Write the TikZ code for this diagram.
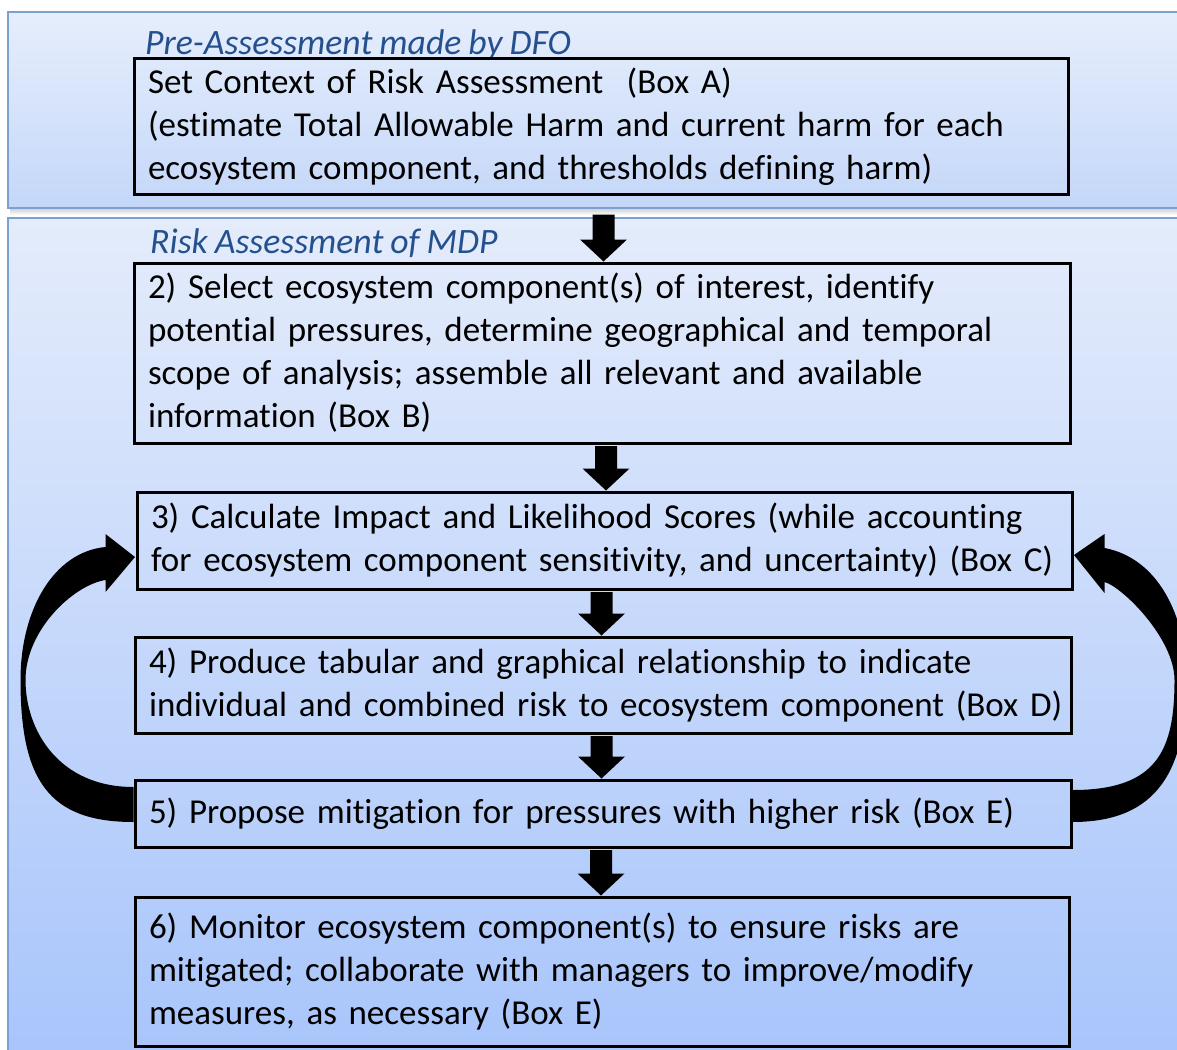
\documentclass[tikz,border=0pt]{standalone}
\usepackage{fontspec}
\setmainfont{Carlito}[RawFeature={-liga}]
\usetikzlibrary{calc}
\definecolor{titleblue}{HTML}{24508E}
\definecolor{panelline}{HTML}{7BA0D4}
\definecolor{ptopA}{HTML}{E6EEFC}
\definecolor{pbotA}{HTML}{C4D7F9}
\definecolor{ptopB}{HTML}{E4ECFB}
\definecolor{pbotB}{HTML}{A7C4FB}
\newcommand{\downblock}[2]{%
  \fill[black] ($(#1)+(-11,0)$) -- ($(#1)+(11,0)$) -- ($(#2)+(11,-22)$) -- ($(#2)+(23.5,-22)$)
    -- (#2) -- ($(#2)+(-23.5,-22)$) -- ($(#2)+(-11,-22)$) -- cycle;}
\newcommand{\boxfont}{\fontsize{35}{43}\selectfont\spaceskip 7pt plus 1pt minus 1pt\relax}
\newcommand{\ttlfont}{\itshape\fontsize{35.7}{43}\selectfont\spaceskip 7pt plus 1pt minus 1pt\relax}
\begin{document}
\begin{tikzpicture}[x=1pt,y=-1pt,
  panel/.style={draw=panelline, line width=2pt},
  box/.style={draw=black, line width=3pt, rectangle, inner xsep=14pt, inner ysep=0pt,
    align=left, font=\boxfont},
  title/.style={anchor=base west, inner sep=0pt, text=titleblue, font=\ttlfont}
]
\useasboundingbox (0,0) rectangle (1177,1049);
\clip (0,0) rectangle (1177,1049);
\fill[white] (0,0) rectangle (1177,1049);
% panels
\shade[top color=gray!45, bottom color=white] (10,207) rectangle (1190,215);
\shade[panel, top color=ptopA, bottom color=pbotA] (8,12) rectangle (1200,208);
\shade[panel, top color=ptopB, bottom color=pbotB] (8,218) rectangle (1200,1070);
% titles
\node[title] (T1) at (145,55) {Pre-Assessment made by DFO};
\node[title] (T2) at (150,253) {Risk Assessment of MDP};
% boxes
\node[box, minimum width=934pt, text width=906pt, minimum height=135pt] (A) at (601,126.5)
 {Set Context of Risk Assessment~ (Box A)\\(estimate Total Allowable Harm and current harm for each\\ecosystem component, and thresholds defining harm)};
\node[box, minimum width=936pt, text width=908pt, minimum height=180pt] (B) at (602,353)
 {2) Select ecosystem component(s) of interest, identify\\potential pressures, determine geographical and temporal\\scope of analysis; assemble all relevant and available\\information (Box B)};
\node[box, minimum width=935pt, text width=907pt, minimum height=97pt] (C) at (604.5,540.5)
 {3) Calculate Impact and Likelihood Scores (while accounting\\for ecosystem component sensitivity, and uncertainty) (Box C)};
\node[box, minimum width=936pt, text width=908pt, minimum height=96pt] (D) at (603,685)
 {4) Produce tabular and graphical relationship to indicate\\\mbox{individual and combined risk to ecosystem component (Box D)}};
\node[box, minimum width=936pt, text width=908pt, minimum height=67pt] (E) at (603,813.5)
 {5) Propose mitigation for pressures with higher risk (Box E)};
\node[box, minimum width=934pt, text width=906pt, minimum height=149pt] (F) at (602,971.5)
 {6) Monitor ecosystem component(s) to ensure risks are\\mitigated; collaborate with managers to improve/modify\\measures, as necessary (Box E)};
% straight block arrows
\coordinate (a1) at ($(A.south)+(2.5,19)$);
\coordinate (a2) at (a1 |- B.north);
\downblock{a1}{a2}
\coordinate (b1) at ($(B.south)+(4,1.5)$);
\coordinate (b2) at (b1 |- C.north);
\downblock{b1}{b2}
\coordinate (c1) at ($(C.south)+(-3,1.5)$);
\coordinate (c2) at (c1 |- D.north);
\downblock{c1}{c2}
\coordinate (d1) at ($(D.south)+(-1.5,1.5)$);
\coordinate (d2) at (d1 |- E.north);
\downblock{d1}{d2}
\coordinate (e1) at ($(E.south)+(-2,1.5)$);
\coordinate (e2) at (e1 |- F.north);
\downblock{e1}{e2}
% curved feedback arrows
\coordinate (Ltip) at ($(C.west)+(-0.5,16.5)$);
\coordinate (Rtip) at ($(C.east)+(0.5,14.5)$);
\begin{scope}[shift={(E.west)}]
\fill[black] (0,8.5) .. controls (-85,8.5) and (-113,-33.5) .. (-113,-133.5)
  .. controls (-113,-203.5) and (-80,-261.5) .. (-28,-266.5)
  -- (-28,-279.5) -- (Ltip) -- (-28,-221.5) -- (-28,-233.5)
  .. controls (-60,-228.5) and (-108,-183.5) .. (-108,-133.5)
  .. controls (-108,-83.5) and (-75,-26.5) .. (0,-26.5) -- cycle;
\end{scope}
\begin{scope}[shift={(E.east)}]
\fill[black] (0,8.5) .. controls (85,8.5) and (114,-43.5) .. (114,-133.5)
  .. controls (114,-198.5) and (85,-255.5) .. (32,-265.5)
  -- (32,-279.5) -- (Rtip) -- (32,-220.5) -- (32,-231.5)
  .. controls (50,-226.5) and (102,-175) .. (102,-133.5)
  .. controls (102,-63.5) and (85,-23.5) .. (0,-23.5) -- cycle;
\end{scope}
\end{tikzpicture}
\end{document}
